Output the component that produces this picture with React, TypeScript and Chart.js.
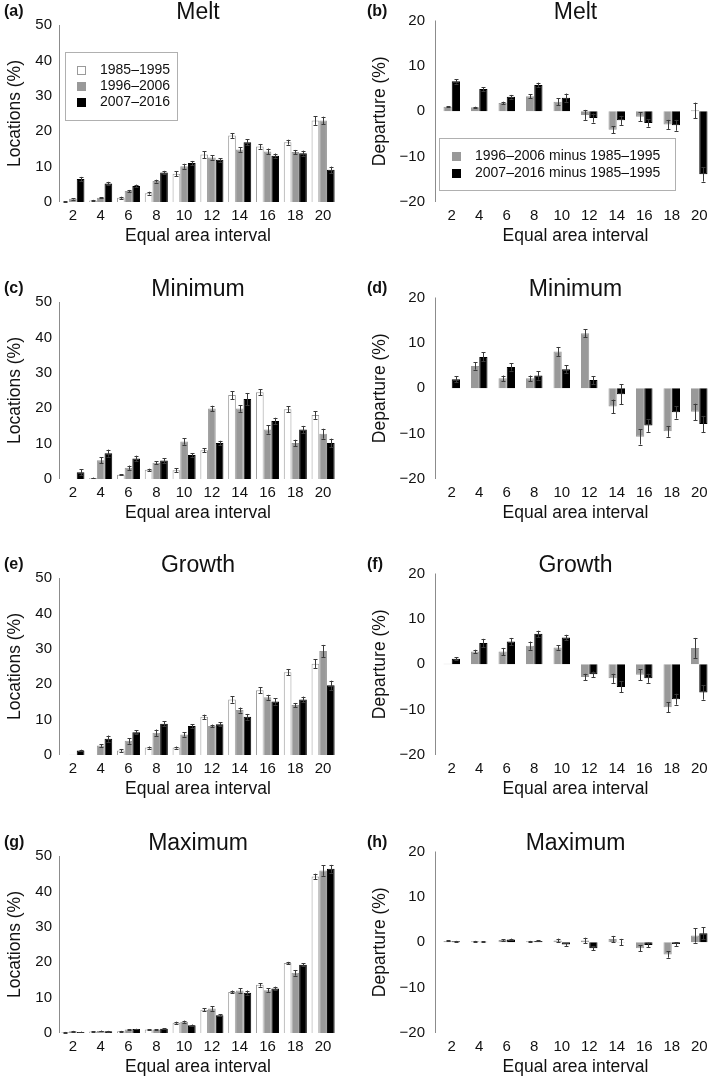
import React, { useEffect, useRef } from 'react';
import { Chart, registerables } from 'chart.js';
Chart.register(...registerables);

const FONT = '"Liberation Sans", Arial, Helvetica, sans-serif';

// ---------- categories / labels ----------
const intervals = ['2', '4', '6', '8', '10', '12', '14', '16', '18', '20'];
const periodLabels = ['1985–1995', '1996–2006', '2007–2016'];
const departureLabels = ['1996–2006 minus 1985–1995', '2007–2016 minus 1985–1995'];
const xTitle = 'Equal area interval';

// ---------- Melt ----------
const meltP1 = [0.1, 0.4, 1.2, 2.5, 8.0, 13.4, 18.8, 15.7, 16.9, 23.0];
const meltP1Err = [0.1, 0.2, 0.3, 0.4, 0.7, 1.0, 0.7, 0.7, 0.7, 1.2];
const meltP2 = [0.9, 1.2, 3.1, 5.9, 10.1, 12.6, 14.8, 14.3, 14.1, 23.0];
const meltP2Err = [0.2, 0.2, 0.3, 0.4, 0.7, 0.6, 0.6, 0.8, 0.6, 1.1];
const meltP3 = [6.5, 5.2, 4.5, 8.3, 11.0, 11.9, 16.9, 13.1, 13.8, 9.1];
const meltP3Err = [0.6, 0.5, 0.4, 0.5, 0.6, 0.5, 0.8, 0.6, 0.7, 0.9];
const meltD2 = [1.0, 0.9, 1.8, 3.3, 2.1, -0.8, -4.1, -1.2, -2.9, 0.2];
const meltD2Err = [0.1, 0.1, 0.3, 0.4, 0.8, 1.1, 0.8, 1.0, 1.0, 1.7];
const meltD3 = [6.6, 4.9, 3.2, 5.8, 3.0, -1.5, -2.0, -2.6, -3.1, -13.9];
const meltD3Err = [0.5, 0.4, 0.4, 0.5, 0.9, 1.0, 1.0, 0.8, 1.2, 1.6];

// ---------- Minimum ----------
const minP1 = [0.0, 0.3, 1.2, 2.6, 2.5, 8.1, 23.7, 24.5, 19.7, 18.1];
const minP1Err = [0.0, 0.1, 0.2, 0.3, 0.5, 0.6, 1.1, 0.8, 0.8, 1.1];
const minP2 = [0.0, 5.3, 3.2, 4.6, 10.6, 19.9, 19.9, 14.0, 10.2, 12.8];
const minP2Err = [0.0, 0.9, 0.6, 0.4, 0.9, 0.8, 0.9, 1.2, 0.9, 1.4];
const minP3 = [1.9, 7.3, 5.8, 5.2, 6.8, 10.2, 22.6, 16.4, 14.0, 10.2];
const minP3Err = [0.8, 1.0, 0.8, 0.7, 0.5, 0.6, 1.7, 0.9, 1.0, 1.2];
const minD2 = [0.0, 4.9, 2.2, 2.2, 8.1, 12.1, -4.0, -10.7, -9.5, -5.2];
const minD2Err = [0.0, 0.8, 0.6, 0.6, 1.0, 0.9, 1.5, 1.7, 1.2, 1.8];
const minD3 = [2.0, 6.9, 4.7, 2.8, 4.2, 1.8, -1.3, -8.2, -5.3, -7.9];
const minD3Err = [0.7, 1.0, 0.8, 0.9, 0.9, 0.9, 2.2, 1.4, 1.4, 1.8];

// ---------- Growth ----------
const growP1 = [0.0, 0.0, 1.3, 2.1, 2.1, 10.8, 15.7, 18.3, 23.4, 25.8];
const growP1Err = [0.0, 0.0, 0.4, 0.3, 0.3, 0.6, 0.9, 0.8, 0.9, 1.2];
const growP2 = [0.1, 2.7, 4.0, 6.3, 5.8, 8.2, 12.7, 16.3, 14.1, 29.4];
const growP2Err = [0.0, 0.4, 0.8, 0.9, 0.6, 0.4, 0.7, 0.7, 0.6, 1.7];
const growP3 = [1.3, 4.6, 6.4, 8.8, 8.2, 8.7, 10.8, 15.1, 15.7, 19.7];
const growP3Err = [0.2, 0.9, 0.6, 0.7, 0.5, 0.6, 0.8, 0.9, 0.8, 1.3];
const growD2 = [0.1, 2.8, 2.8, 4.1, 3.7, -2.8, -3.1, -2.3, -9.5, 3.6];
const growD2Err = [0.0, 0.4, 0.8, 0.9, 0.5, 0.7, 1.0, 1.2, 1.1, 2.2];
const growD3 = [1.2, 4.7, 5.0, 6.7, 5.9, -2.2, -5.0, -3.1, -7.7, -6.2];
const growD3Err = [0.3, 0.9, 0.8, 0.7, 0.6, 0.6, 1.2, 1.0, 1.2, 1.6];

// ---------- Maximum ----------
const maxP1 = [0.2, 0.4, 0.5, 1.0, 2.9, 6.6, 11.6, 13.6, 19.8, 44.2];
const maxP1Err = [0.1, 0.1, 0.1, 0.1, 0.3, 0.4, 0.4, 0.5, 0.3, 0.8];
const maxP2 = [0.5, 0.6, 1.0, 1.0, 3.2, 6.9, 12.0, 12.1, 17.0, 45.9];
const maxP2Err = [0.1, 0.1, 0.1, 0.1, 0.3, 0.6, 0.6, 0.5, 0.8, 1.5];
const maxP3 = [0.3, 0.5, 1.1, 1.2, 2.2, 5.0, 11.4, 12.6, 19.3, 46.4];
const maxP3Err = [0.1, 0.1, 0.1, 0.1, 0.2, 0.3, 0.6, 0.5, 0.4, 1.1];
const maxD2 = [0.3, 0.2, 0.5, 0.2, 0.4, 0.4, 0.7, -1.3, -2.7, 1.5];
const maxD2Err = [0.1, 0.1, 0.2, 0.1, 0.4, 0.6, 0.7, 0.7, 0.7, 1.6];
const maxD3 = [0.2, 0.1, 0.6, 0.3, -0.5, -1.3, 0.05, -0.6, -0.4, 2.0];
const maxD3Err = [0.1, 0.1, 0.2, 0.1, 0.3, 0.5, 0.7, 0.5, 0.4, 1.3];

// ---------- styles ----------
const WHITE = '#ffffff';
const GREY = '#999999';
const BLACK = '#000000';
const WHITE_EDGE = '#9a9a9a';

type Series = { label: string; data: number[]; err: number[]; fill: string; edge: string };
type LegendCfg = { box: [number, number, number, number]; sqX: number; textX: number; rows: number[] };
type PanelCfg = {
  kind: 'loc' | 'dep';
  letter: string;
  title: string;
  left: number;
  top: number;
  series: Series[];
  legend?: LegendCfg;
};

const periods = (a: number[], ae: number[], b: number[], be: number[], c: number[], ce: number[]): Series[] => [
  { label: periodLabels[0], data: a, err: ae, fill: WHITE, edge: WHITE_EDGE },
  { label: periodLabels[1], data: b, err: be, fill: GREY, edge: GREY },
  { label: periodLabels[2], data: c, err: ce, fill: BLACK, edge: BLACK },
];
const departures = (a: number[], ae: number[], b: number[], be: number[]): Series[] => [
  { label: departureLabels[0], data: a, err: ae, fill: GREY, edge: GREY },
  { label: departureLabels[1], data: b, err: be, fill: BLACK, edge: BLACK },
];

const TOPS = [0, 277, 553, 831];
const RIGHT_LEFT = 354;

const panels: PanelCfg[] = [
  { kind: 'loc', letter: '(a)', title: 'Melt', left: 0, top: TOPS[0],
    series: periods(meltP1, meltP1Err, meltP2, meltP2Err, meltP3, meltP3Err),
    legend: { box: [65, 52, 112, 68], sqX: 77, textX: 100, rows: [70.5, 86.5, 102.5] } },
  { kind: 'dep', letter: '(b)', title: 'Melt', left: RIGHT_LEFT, top: TOPS[0],
    series: departures(meltD2, meltD2Err, meltD3, meltD3Err),
    legend: { box: [85, 138, 236, 52], sqX: 98, textX: 121, rows: [156, 173] } },
  { kind: 'loc', letter: '(c)', title: 'Minimum', left: 0, top: TOPS[1],
    series: periods(minP1, minP1Err, minP2, minP2Err, minP3, minP3Err) },
  { kind: 'dep', letter: '(d)', title: 'Minimum', left: RIGHT_LEFT, top: TOPS[1],
    series: departures(minD2, minD2Err, minD3, minD3Err) },
  { kind: 'loc', letter: '(e)', title: 'Growth', left: 0, top: TOPS[2],
    series: periods(growP1, growP1Err, growP2, growP2Err, growP3, growP3Err) },
  { kind: 'dep', letter: '(f)', title: 'Growth', left: RIGHT_LEFT, top: TOPS[2],
    series: departures(growD2, growD2Err, growD3, growD3Err) },
  { kind: 'loc', letter: '(g)', title: 'Maximum', left: 0, top: TOPS[3],
    series: periods(maxP1, maxP1Err, maxP2, maxP2Err, maxP3, maxP3Err) },
  { kind: 'dep', letter: '(h)', title: 'Maximum', left: RIGHT_LEFT, top: TOPS[3],
    series: departures(maxD2, maxD2Err, maxD3, maxD3Err) },
];

const KIND = {
  loc: { width: 354, plotTop: 25, yWidth: 59, yTickPad: 7, yTitlePad: 4.5, padRight: 17, axisGap: 0,
    catPct: 0.83, yTitle: 'Locations (%)', min: 0, max: 50, letterX: 4 },
  dep: { width: 362, plotTop: 8, yWidth: 84, yTickPad: 13, yTitlePad: 15.5, padRight: 3, axisGap: 3,
    catPct: 0.6, yTitle: 'Departure (%)', min: -20, max: 20, letterX: 13 },
};
const CANVAS_H = 270;
const X_SCALE_H = 68;

const errorBarPlugin = {
  id: 'errorBars',
  afterDatasetsDraw(chart: any) {
    const ctx = chart.ctx;
    const ys = chart.scales.y;
    chart.data.datasets.forEach((ds: any, i: number) => {
      const errs: number[] = ds.errors;
      if (!errs) return;
      const meta = chart.getDatasetMeta(i);
      meta.data.forEach((el: any, j: number) => {
        const v = ds.data[j];
        const e = errs[j];
        if (!e) return;
        const x = Math.round(el.x) + 0.5;
        const y1 = ys.getPixelForValue(v - e);
        const y2 = ys.getPixelForValue(v + e);
        ctx.save();
        ctx.strokeStyle = '#3a3a3a';
        ctx.lineWidth = 1;
        ctx.beginPath();
        ctx.moveTo(x, y1);
        ctx.lineTo(x, y2);
        ctx.moveTo(x - 2, Math.round(y1) + 0.5);
        ctx.lineTo(x + 2, Math.round(y1) + 0.5);
        ctx.moveTo(x - 2, Math.round(y2) + 0.5);
        ctx.lineTo(x + 2, Math.round(y2) + 0.5);
        ctx.stroke();
        ctx.restore();
      });
    });
  },
};

const decoPlugin = {
  id: 'deco',
  afterDraw(chart: any, _args: any, opts: any) {
    const ctx = chart.ctx;
    const ca = chart.chartArea;
    ctx.save();
    // y axis line
    const ax = Math.round(ca.left - opts.axisGap) + 0.5;
    ctx.strokeStyle = '#8c8c8c';
    ctx.lineWidth = 1;
    ctx.beginPath();
    ctx.moveTo(ax, ca.top);
    ctx.lineTo(ax, ca.bottom);
    ctx.stroke();
    // panel letter
    ctx.fillStyle = '#111';
    ctx.textBaseline = 'middle';
    ctx.textAlign = 'left';
    ctx.font = `bold 16px ${FONT}`;
    ctx.fillText(opts.letter, opts.letterX, 12);
    // title
    ctx.textAlign = 'center';
    ctx.font = `23px ${FONT}`;
    ctx.fillText(opts.title, (ca.left + ca.right) / 2, 12.5);
    // legend
    const lg: LegendCfg | undefined = opts.legend;
    if (lg) {
      const [bx, by, bw, bh] = lg.box;
      ctx.strokeStyle = '#b0b0b0';
      ctx.strokeRect(bx + 0.5, by + 0.5, bw, bh);
      ctx.font = `14px ${FONT}`;
      ctx.textAlign = 'left';
      chart.data.datasets.forEach((ds: any, i: number) => {
        const cy = lg.rows[i];
        ctx.fillStyle = ds.backgroundColor;
        ctx.fillRect(lg.sqX, Math.round(cy - 4.5), 9, 9);
        ctx.strokeStyle = ds.borderColor;
        ctx.strokeRect(lg.sqX + 0.5, Math.round(cy - 4.5) + 0.5, 8, 8);
        ctx.fillStyle = '#111';
        ctx.fillText(ds.label, lg.textX, cy);
      });
    }
    ctx.restore();
  },
};

function Panel({ cfg }: { cfg: PanelCfg }) {
  const ref = useRef<HTMLCanvasElement | null>(null);
  useEffect(() => {
    if (!ref.current) return;
    const k = KIND[cfg.kind];
    const chart = new Chart(ref.current, {
      type: 'bar',
      data: {
        labels: intervals,
        datasets: cfg.series.map((s) => ({
          label: s.label,
          data: s.data,
          errors: s.err,
          backgroundColor: s.fill,
          borderColor: s.edge,
          borderWidth: 1,
          barPercentage: 1,
          categoryPercentage: k.catPct,
        })) as any,
      },
      options: {
        responsive: false,
        animation: false,
        devicePixelRatio: 1,
        events: [],
        layout: { padding: { top: k.plotTop, right: k.padRight, left: 0, bottom: 0 } },
        plugins: {
          legend: { display: false },
          tooltip: { enabled: false },
          title: { display: false },
          deco: { letter: cfg.letter, title: cfg.title, legend: cfg.legend, axisGap: k.axisGap, letterX: k.letterX },
        } as any,
        scales: {
          x: {
            type: 'category',
            offset: true,
            grid: { display: false, drawTicks: false },
            border: { display: false },
            ticks: { padding: 6, color: '#111', font: { family: FONT, size: 15, lineHeight: 1 }, maxRotation: 0, autoSkip: false },
            title: { display: true, text: xTitle, color: '#111', font: { family: FONT, size: 17.5 }, padding: { top: 0, bottom: 23 } },
            afterFit: (s: any) => { s.height = X_SCALE_H; },
          },
          y: {
            min: k.min,
            max: k.max,
            grid: { display: false, drawTicks: false },
            border: { display: false },
            ticks: {
              stepSize: 10,
              padding: k.yTickPad,
              color: '#111',
              font: { family: FONT, size: 15, lineHeight: 1 },
              callback: (v: any) => String(v).replace('-', '\u2212'),
            },
            title: { display: true, text: k.yTitle, color: '#111', font: { family: FONT, size: 17.5 }, padding: { top: k.yTitlePad, bottom: 0 } },
            afterFit: (s: any) => { s.width = k.yWidth; },
          },
        },
      } as any,
      plugins: [errorBarPlugin, decoPlugin],
    });
    return () => chart.destroy();
  }, [cfg]);
  const k = KIND[cfg.kind];
  return (
    <canvas
      ref={ref}
      width={k.width}
      height={CANVAS_H}
      style={{ position: 'absolute', left: cfg.left, top: cfg.top, width: k.width, height: CANVAS_H }}
    />
  );
}

export default function App() {
  return (
    <div style={{ position: 'absolute', left: 0, top: 0, width: 709, height: 1079, overflow: 'hidden', background: '#fff' }}>
      {panels.map((p, i) => (
        <Panel key={i} cfg={p} />
      ))}
    </div>
  );
}
